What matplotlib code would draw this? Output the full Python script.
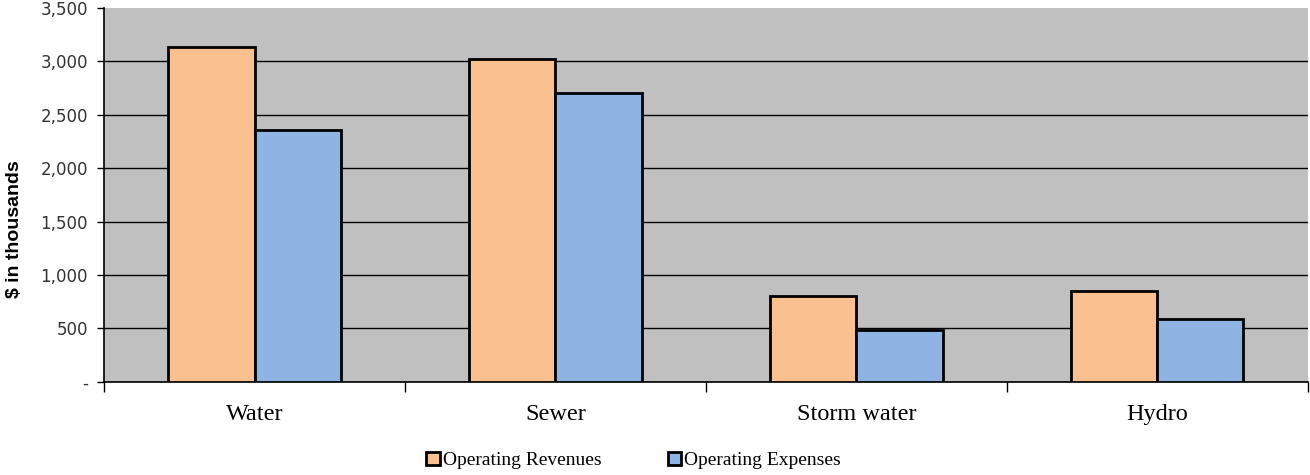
import numpy as np
import matplotlib.pyplot as plt
from matplotlib.ticker import FuncFormatter

categories = ['Water', 'Sewer', 'Storm water', 'Hydro']
revenues = [3140, 3025, 805, 850]
expenses = [2360, 2705, 487, 590]

fig = plt.figure(figsize=(13.1, 4.75), dpi=100)
ax = fig.add_axes([0.0794, 0.196, 0.919, 0.787])
ax.set_facecolor('#c0c0c0')

x = np.arange(len(categories))
w = 0.286
ax.bar(x - w / 2, revenues, w, color='#fac090', edgecolor='black', linewidth=2,
       label='Operating Revenues', zorder=3)
ax.bar(x + w / 2, expenses, w, color='#8eb4e3', edgecolor='black', linewidth=2,
       label='Operating Expenses', zorder=3)

ax.set_xlim(-0.5, len(categories) - 0.5)
ax.set_ylim(0, 3500)
ax.set_yticks(np.arange(0, 3501, 500))
ax.yaxis.set_major_formatter(FuncFormatter(lambda v, p: '-' if v == 0 else f'{v:,.0f}'))
ax.grid(axis='y', color='black', linewidth=1, zorder=1)
ax.yaxis.get_gridlines()[-1].set_visible(False)

ax.set_xticks(x)
ax.set_xticklabels(categories, family='Liberation Serif', fontsize=17.5)
ax.tick_params(axis='x', length=0, pad=16)
ax.set_xticks(np.arange(-0.5, len(categories)), minor=True)
ax.tick_params(axis='x', which='minor', length=7, width=1, direction='out')
ax.tick_params(axis='y', length=5, width=1, labelsize=12, direction='out', pad=6.5)
for t in ax.get_yticklabels():
    t.set_family('DejaVu Sans')
    t.set_color('#333333')

ax.set_ylabel('$ in thousands', family='Liberation Sans', fontweight='bold', fontsize=14)
ax.yaxis.set_label_coords(-0.067, 0.41)

for s in ['top', 'right']:
    ax.spines[s].set_visible(False)
ax.spines['left'].set_linewidth(1.2)
ax.spines['bottom'].set_linewidth(1.2)

ax.legend(loc='center', bbox_to_anchor=(0.44, -0.21), ncol=2, frameon=False,
          prop={'family': 'Liberation Serif', 'size': 14}, handlelength=0.7,
          handleheight=0.7, handletextpad=0.15, columnspacing=3.4)

fig.savefig('out.png', dpi=100)
